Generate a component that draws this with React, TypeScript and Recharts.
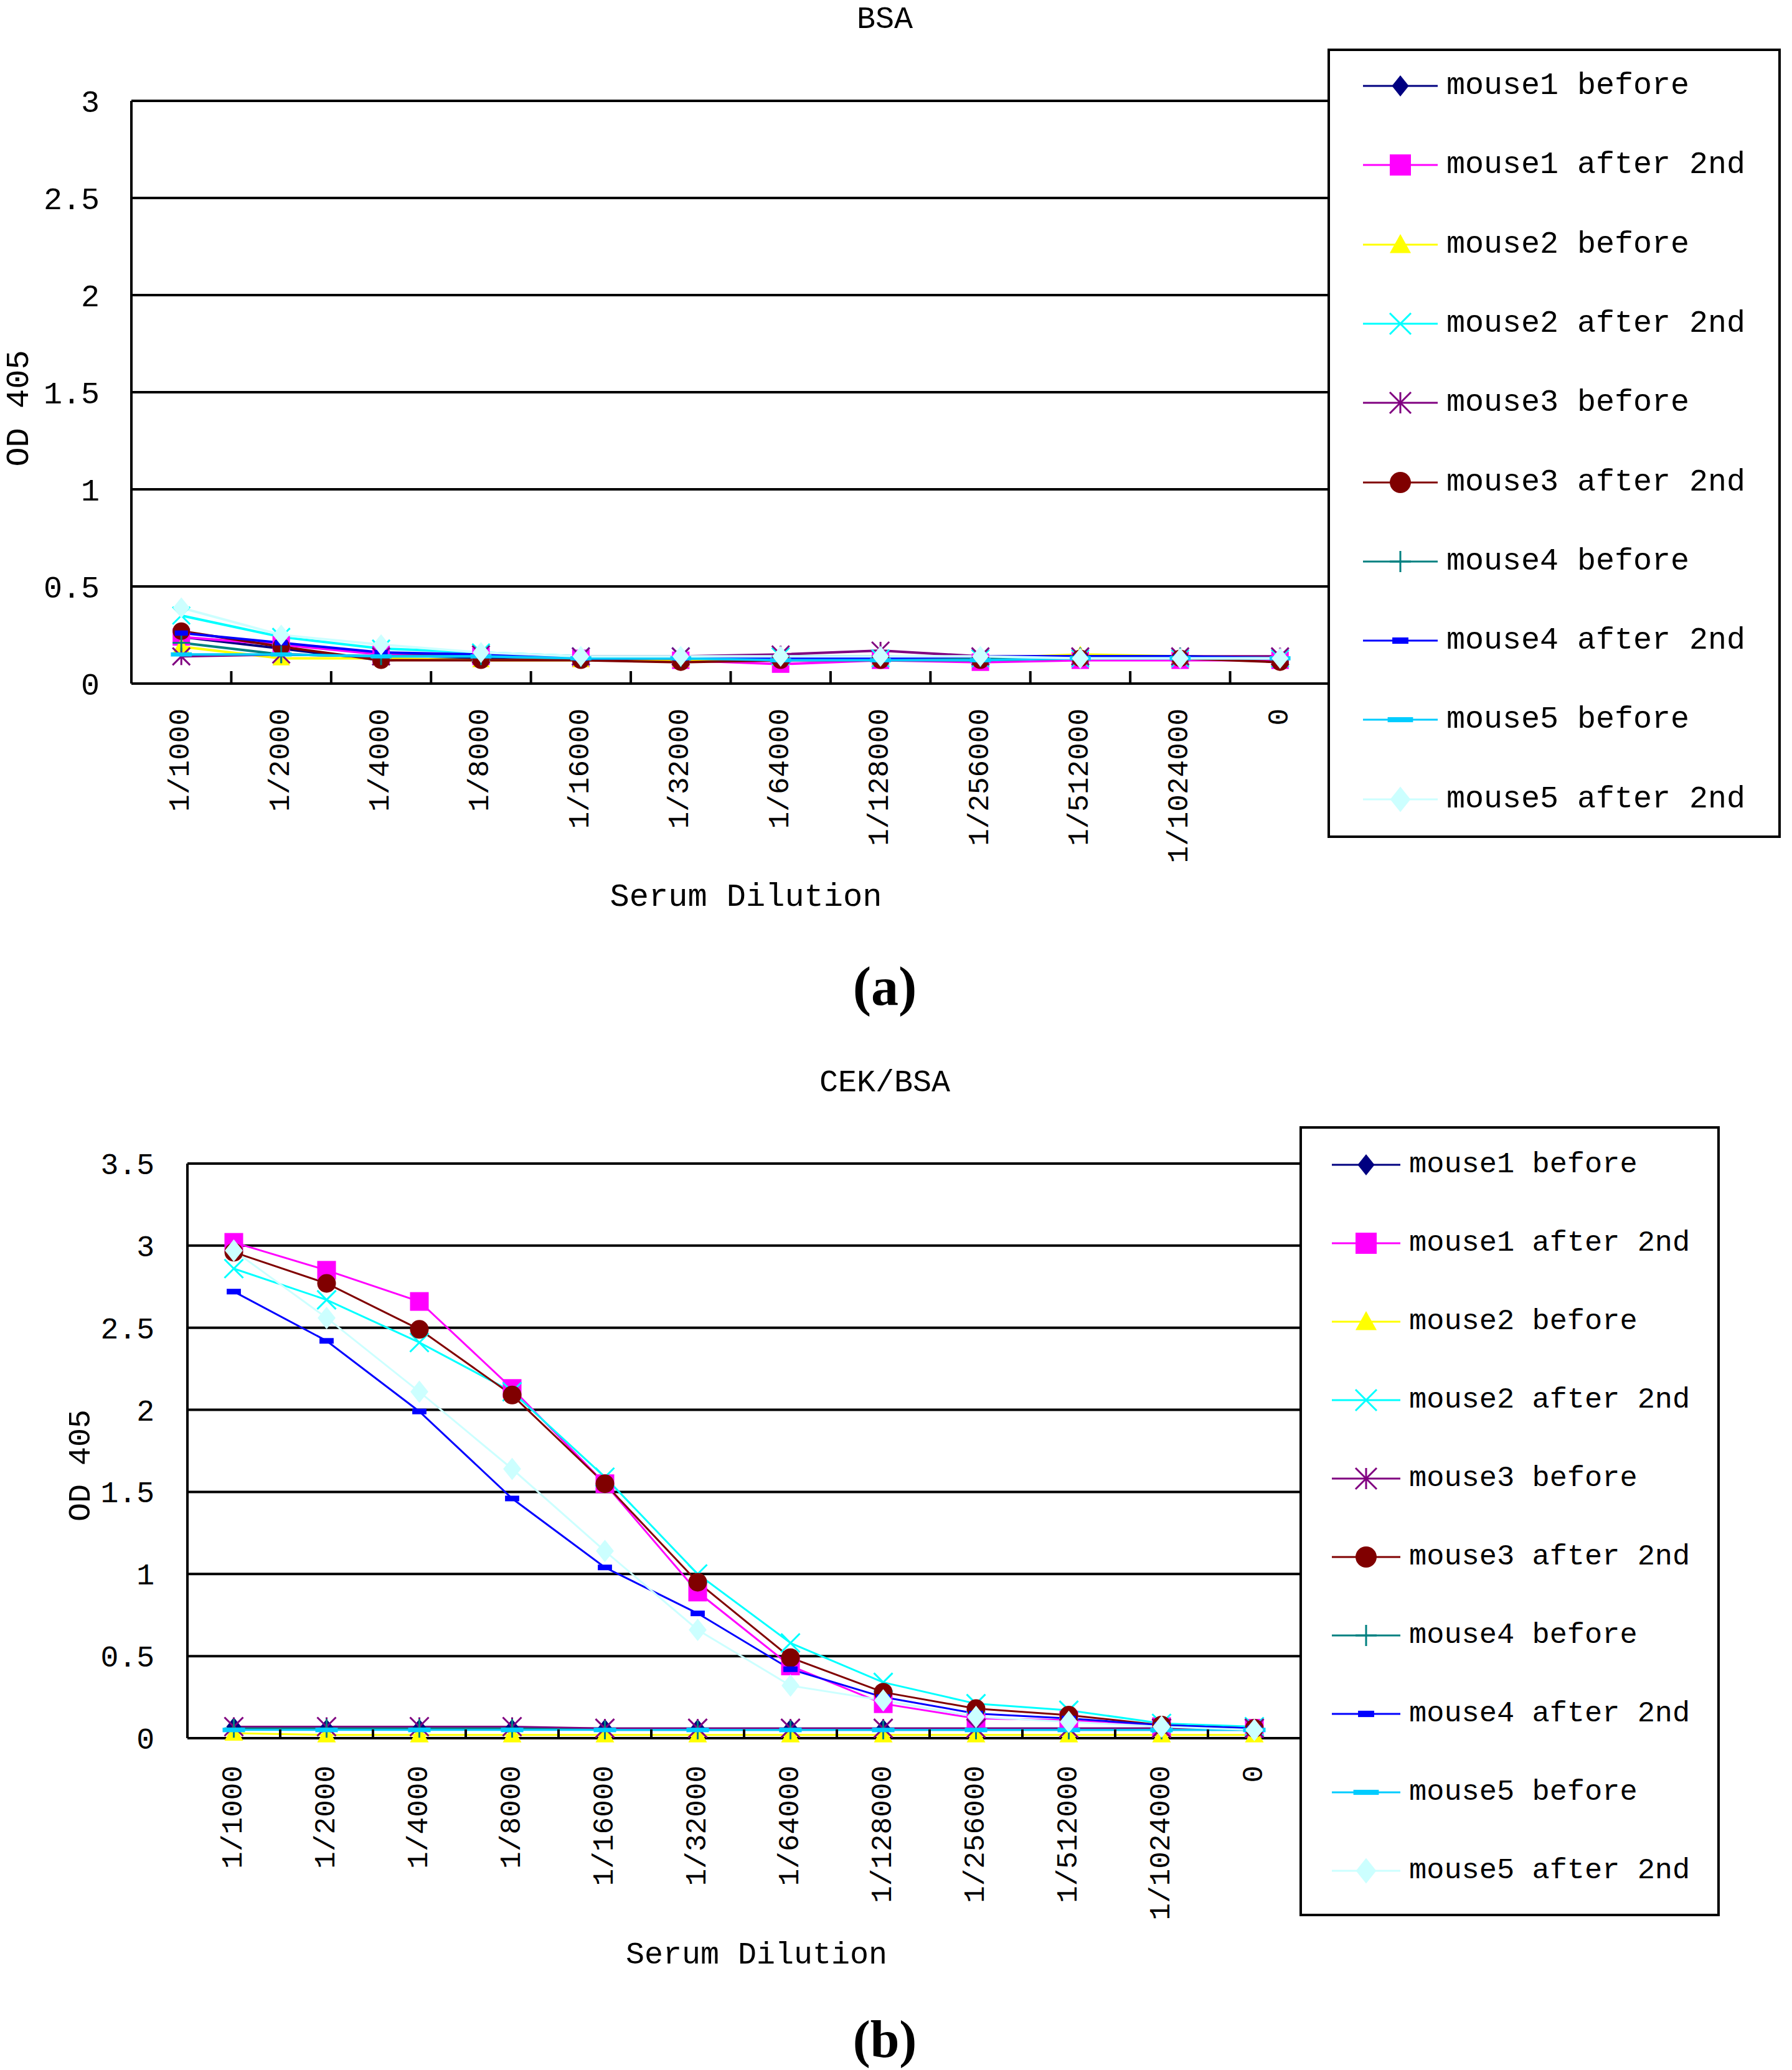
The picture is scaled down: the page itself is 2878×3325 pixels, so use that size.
import React from 'react';
import { LineChart, Line, XAxis, YAxis, CartesianGrid, Legend } from 'recharts';

// ---------- DATA ----------
const dilutions = ['1/1000', '1/2000', '1/4000', '1/8000', '1/16000', '1/32000', '1/64000', '1/128000', '1/256000', '1/512000', '1/1024000', '0'];

const seriesNames = ['mouse1 before', 'mouse1 after 2nd', 'mouse2 before', 'mouse2 after 2nd', 'mouse3 before', 'mouse3 after 2nd', 'mouse4 before', 'mouse4 after 2nd', 'mouse5 before', 'mouse5 after 2nd'];

// Panel (a): BSA
const bsaMouse1Before = [0.24, 0.18, 0.12, 0.13, 0.13, 0.12, 0.12, 0.13, 0.13, 0.13, 0.13, 0.12];
const bsaMouse1After = [0.24, 0.2, 0.15, 0.14, 0.13, 0.12, 0.1, 0.12, 0.11, 0.12, 0.12, 0.12];
const bsaMouse2Before = [0.19, 0.13, 0.13, 0.12, 0.12, 0.12, 0.13, 0.13, 0.13, 0.15, 0.14, 0.13];
const bsaMouse2After = [0.35, 0.24, 0.18, 0.16, 0.14, 0.14, 0.14, 0.13, 0.13, 0.13, 0.13, 0.13];
const bsaMouse3Before = [0.14, 0.15, 0.14, 0.15, 0.14, 0.14, 0.15, 0.17, 0.14, 0.14, 0.14, 0.14];
const bsaMouse3After = [0.27, 0.19, 0.12, 0.12, 0.12, 0.11, 0.12, 0.12, 0.12, 0.13, 0.13, 0.11];
const bsaMouse4Before = [0.21, 0.15, 0.14, 0.14, 0.13, 0.13, 0.14, 0.14, 0.13, 0.14, 0.14, 0.13];
const bsaMouse4After = [0.26, 0.21, 0.16, 0.15, 0.13, 0.13, 0.13, 0.13, 0.14, 0.14, 0.14, 0.13];
const bsaMouse5Before = [0.15, 0.15, 0.14, 0.14, 0.13, 0.13, 0.12, 0.12, 0.12, 0.13, 0.13, 0.13];
const bsaMouse5After = [0.39, 0.25, 0.2, 0.16, 0.14, 0.14, 0.14, 0.14, 0.14, 0.13, 0.13, 0.13];

// Panel (b): CEK/BSA
const cekMouse1Before = [0.07, 0.06, 0.06, 0.06, 0.06, 0.06, 0.06, 0.06, 0.06, 0.06, 0.06, 0.06];
const cekMouse1After = [3.02, 2.85, 2.66, 2.13, 1.55, 0.89, 0.44, 0.21, 0.12, 0.11, 0.07, 0.06];
const cekMouse2Before = [0.03, 0.02, 0.02, 0.02, 0.02, 0.02, 0.02, 0.02, 0.02, 0.02, 0.02, 0.02];
const cekMouse2After = [2.86, 2.67, 2.41, 2.11, 1.59, 1.0, 0.58, 0.34, 0.21, 0.17, 0.09, 0.07];
const cekMouse3Before = [0.07, 0.07, 0.07, 0.07, 0.06, 0.06, 0.06, 0.06, 0.06, 0.06, 0.06, 0.06];
const cekMouse3After = [2.96, 2.77, 2.49, 2.09, 1.55, 0.95, 0.49, 0.28, 0.18, 0.14, 0.08, 0.06];
const cekMouse4Before = [0.06, 0.06, 0.06, 0.06, 0.05, 0.05, 0.05, 0.05, 0.05, 0.05, 0.05, 0.05];
const cekMouse4After = [2.72, 2.42, 1.99, 1.46, 1.04, 0.76, 0.42, 0.25, 0.15, 0.12, 0.08, 0.06];
const cekMouse5Before = [0.05, 0.05, 0.05, 0.05, 0.05, 0.05, 0.05, 0.05, 0.05, 0.05, 0.05, 0.05];
const cekMouse5After = [2.97, 2.56, 2.11, 1.64, 1.14, 0.66, 0.32, 0.23, 0.13, 0.1, 0.07, 0.05];

const yTicksBsa = [0, 0.5, 1, 1.5, 2, 2.5, 3];
const yTicksCek = [0, 0.5, 1, 1.5, 2, 2.5, 3, 3.5];
// category boundaries (between-category tick marks)
const boundaryTicks = [1, 2, 3, 4, 5, 6, 7, 8, 9, 10, 11, 12];

// ---------- STYLE ----------
type Kind = 'diamond' | 'square' | 'triangle' | 'x' | 'star' | 'circle' | 'plus' | 'dash' | 'bar' | 'bigDiamond';
const seriesColors = ['#000080', '#FF00FF', '#FFFF00', '#00FFFF', '#800080', '#800000', '#008080', '#0000FF', '#00CCFF', '#CCFFFF'];
const seriesMarkers: Kind[] = ['diamond', 'square', 'triangle', 'x', 'star', 'circle', 'plus', 'dash', 'bar', 'bigDiamond'];
const seriesKeys = ['m1b', 'm1a', 'm2b', 'm2a', 'm3b', 'm3a', 'm4b', 'm4a', 'm5b', 'm5a'];

const FONT = '"Liberation Mono", "DejaVu Sans Mono", monospace';
const CAT_AXIS_H = 299;

const bsaSeries = [bsaMouse1Before, bsaMouse1After, bsaMouse2Before, bsaMouse2After, bsaMouse3Before, bsaMouse3After, bsaMouse4Before, bsaMouse4After, bsaMouse5Before, bsaMouse5After];
const cekSeries = [cekMouse1Before, cekMouse1After, cekMouse2Before, cekMouse2After, cekMouse3Before, cekMouse3After, cekMouse4Before, cekMouse4After, cekMouse5Before, cekMouse5After];

const buildRows = (series: number[][]) =>
  dilutions.map((d, i) => {
    const row: Record<string, string | number> = { dil: d, pos: i + 0.5 };
    seriesKeys.forEach((k, j) => {
      row[k] = series[j][i];
    });
    return row;
  });

const bsaRows = buildRows(bsaSeries);
const cekRows = buildRows(cekSeries);

function Marker({ kind, cx, cy, color, s }: { kind: Kind; cx: number; cy: number; color: string; s: number }) {
  const h = s / 2;
  switch (kind) {
    case 'diamond':
      return <polygon points={`${cx},${cy - h} ${cx + h * 0.8},${cy} ${cx},${cy + h} ${cx - h * 0.8},${cy}`} fill={color} />;
    case 'bigDiamond': {
      const g = h * 1.2;
      return <polygon points={`${cx},${cy - g} ${cx + g * 0.8},${cy} ${cx},${cy + g} ${cx - g * 0.8},${cy}`} fill={color} />;
    }
    case 'square':
      return <rect x={cx - h} y={cy - h} width={s} height={s} fill={color} />;
    case 'triangle':
      return <polygon points={`${cx},${cy - h} ${cx + h},${cy + h * 0.8} ${cx - h},${cy + h * 0.8}`} fill={color} />;
    case 'x':
      return (
        <g stroke={color} strokeWidth={3}>
          <line x1={cx - h} y1={cy - h} x2={cx + h} y2={cy + h} />
          <line x1={cx - h} y1={cy + h} x2={cx + h} y2={cy - h} />
        </g>
      );
    case 'star':
      return (
        <g stroke={color} strokeWidth={3}>
          <line x1={cx - h} y1={cy - h} x2={cx + h} y2={cy + h} />
          <line x1={cx - h} y1={cy + h} x2={cx + h} y2={cy - h} />
          <line x1={cx} y1={cy - h} x2={cx} y2={cy + h} />
        </g>
      );
    case 'circle':
      return <circle cx={cx} cy={cy} r={h} fill={color} />;
    case 'plus':
      return (
        <g stroke={color} strokeWidth={3}>
          <line x1={cx} y1={cy - h} x2={cx} y2={cy + h} />
          <line x1={cx - h} y1={cy} x2={cx + h} y2={cy} />
        </g>
      );
    case 'dash':
      return <rect x={cx - s * 0.38} y={cy - s * 0.15} width={s * 0.76} height={s * 0.3} fill={color} />;
    case 'bar':
      return <rect x={cx - s * 0.6} y={cy - s * 0.12} width={s * 1.2} height={s * 0.24} fill={color} />;
    default:
      return null;
  }
}

const makeDot = (kind: Kind, color: string, s: number) => (props: any) => {
  const { cx, cy, index } = props;
  if (cx == null || cy == null) return <g key={`e${index}`} />;
  return (
    <g key={`d${index}`}>
      <Marker kind={kind} cx={cx} cy={cy} color={color} s={s} />
    </g>
  );
};

const makeXTick = (fontSize: number) => (props: any) => {
  const { x, y, payload } = props;
  return (
    <text
      x={x}
      y={y}
      transform={`rotate(-90 ${x} ${y})`}
      textAnchor="end"
      dominantBaseline="central"
      fontFamily={FONT}
      fontSize={fontSize}
      fill="#000"
    >
      {payload.value}
    </text>
  );
};

// Excel-style tick mark between categories, pointing up into the plot.
// The helper axis is stacked below the category axis, so lift the mark back up to the axis line.
const makeEdgeTick = (len: number, shift: number) => (props: any) => {
  const { x, y } = props;
  return <line x1={x} x2={x} y1={y - shift} y2={y - shift - len} stroke="#000" strokeWidth={4} />;
};

function LegendBox({ width, height, firstRow, rowGap, lineX0, lineX1, textX, fontSize }: any) {
  return (
    <div
      style={{
        position: 'relative',
        width,
        height,
        boxSizing: 'border-box',
        border: '4px solid #000',
        background: '#fff',
      }}
    >
      {seriesNames.map((name, i) => {
        const cy = firstRow + i * rowGap - 4;
        return (
          <div key={name} style={{ position: 'absolute', left: 0, top: cy - 30, height: 60, width: '100%' }}>
            <svg width={lineX1 + 10} height={60} style={{ position: 'absolute', left: 0, top: 0 }}>
              <line x1={lineX0 - 4} x2={lineX1 - 4} y1={30} y2={30} stroke={seriesColors[i]} strokeWidth={3} />
              <Marker kind={seriesMarkers[i]} cx={(lineX0 + lineX1) / 2 - 4} cy={30} color={seriesColors[i]} s={34} />
            </svg>
            <div
              style={{
                position: 'absolute',
                left: textX - 4,
                top: 0,
                height: 60,
                lineHeight: '60px',
                fontFamily: FONT,
                fontSize,
                color: '#000',
                whiteSpace: 'pre',
              }}
            >
              {name}
            </div>
          </div>
        );
      })}
    </div>
  );
}

function Panel({
  rows,
  width,
  height,
  margin,
  yWidth,
  yMax,
  yTicks,
  yTickMargin,
  yFont,
  xTickMargin,
  xTickLen,
  xFont,
  strokeW,
  markerS,
  legend,
}: any) {
  return (
    <LineChart width={width} height={height} data={rows} margin={margin}>
      <CartesianGrid xAxisId="cat" horizontal vertical={false} stroke="#000" strokeWidth={4} />
      <XAxis
        xAxisId="edges"
        type="number"
        dataKey="pos"
        domain={[0, 12]}
        ticks={boundaryTicks}
        interval={0}
        height={1}
        tickSize={0}
        tickMargin={0}
        tickLine={false}
        axisLine={false}
        tick={makeEdgeTick(xTickLen, CAT_AXIS_H)}
        allowDataOverflow
      />
      <XAxis
        xAxisId="cat"
        dataKey="dil"
        type="category"
        scale="band"
        interval={0}
        height={CAT_AXIS_H}
        tickSize={0}
        tickLine={false}
        tickMargin={xTickMargin}
        axisLine={{ stroke: '#000', strokeWidth: 4 }}
        tick={makeXTick(xFont)}
      />
      <YAxis
        width={yWidth}
        domain={[0, yMax]}
        ticks={yTicks}
        interval={0}
        tickSize={0}
        tickLine={false}
        tickMargin={yTickMargin}
        axisLine={{ stroke: '#000', strokeWidth: 4 }}
        tick={{ fontFamily: FONT, fontSize: yFont, fill: '#000' }}
        allowDecimals
      />
      <Legend
        layout="vertical"
        align="center"
        verticalAlign="middle"
        wrapperStyle={{ position: 'absolute', left: legend.left, top: legend.top, width: legend.width, height: legend.height }}
        content={() => <LegendBox {...legend} />}
      />
      {seriesKeys.map((k, i) => (
        <Line
          key={k}
          xAxisId="cat"
          dataKey={k}
          name={seriesNames[i]}
          type="linear"
          stroke={seriesColors[i]}
          strokeWidth={strokeW}
          dot={makeDot(seriesMarkers[i], seriesColors[i], markerS)}
          activeDot={false}
          isAnimationActive={false}
        />
      ))}
    </LineChart>
  );
}

const textStyle = (x: number, y: number, size: number, extra: any = {}) => ({
  position: 'absolute' as const,
  left: x,
  top: y,
  transform: `translate(-50%, -50%)${extra.rotate ? ' rotate(-90deg)' : ''}`,
  fontFamily: extra.family || FONT,
  fontSize: size,
  fontWeight: extra.bold ? 700 : 400,
  whiteSpace: 'pre' as const,
  color: '#000',
  lineHeight: 1,
});

const SERIF = '"Liberation Serif", "Times New Roman", serif';

export default function App() {
  return (
    <div style={{ position: 'absolute', left: 0, top: 0, width: 2878, height: 3325, background: '#fff', overflow: 'hidden' }}>
      <div style={{ position: 'absolute', left: 0, top: 0 }}>
        <Panel
          rows={bsaRows}
          width={2878}
          height={1700}
          margin={{ top: 162, right: 742, left: 0, bottom: 302 }}
          yWidth={211}
          yMax={3}
          yTicks={yTicksBsa}
          yTickMargin={51}
          yFont={50}
          xTickMargin={40}
          xTickLen={20}
          xFont={46}
          strokeW={4}
          markerS={28}
          legend={{ left: 2132, top: 78, width: 728, height: 1268, firstRow: 60, rowGap: 127.3, lineX0: 57, lineX1: 177, textX: 191, fontSize: 50 }}
        />
      </div>
      <div style={{ position: 'absolute', left: 0, top: 1700 }}>
        <Panel
          rows={cekRows}
          width={2878}
          height={1625}
          margin={{ top: 169, right: 789, left: 0, bottom: 233 }}
          yWidth={301}
          yMax={3.5}
          yTicks={yTicksCek}
          yTickMargin={53}
          yFont={48}
          xTickMargin={44}
          xTickLen={14}
          xFont={46}
          strokeW={3}
          markerS={30}
          legend={{ left: 2087, top: 109, width: 675, height: 1269, firstRow: 61.5, rowGap: 126, lineX0: 52, lineX1: 162, textX: 176, fontSize: 47 }}
        />
      </div>
      <div style={textStyle(1421, 32, 50)}>BSA</div>
      <div style={textStyle(32, 656, 52, { rotate: true })}>OD 405</div>
      <div style={textStyle(1198, 1442, 52)}>Serum Dilution</div>
      <div style={textStyle(1421, 1585, 88, { family: SERIF, bold: true })}>(a)</div>
      <div style={textStyle(1421, 1740, 50)}>CEK/BSA</div>
      <div style={textStyle(131, 2354, 50, { rotate: true })}>OD 405</div>
      <div style={textStyle(1215, 3141, 50)}>Serum Dilution</div>
      <div style={textStyle(1421, 3276, 84, { family: SERIF, bold: true })}>(b)</div>
    </div>
  );
}
